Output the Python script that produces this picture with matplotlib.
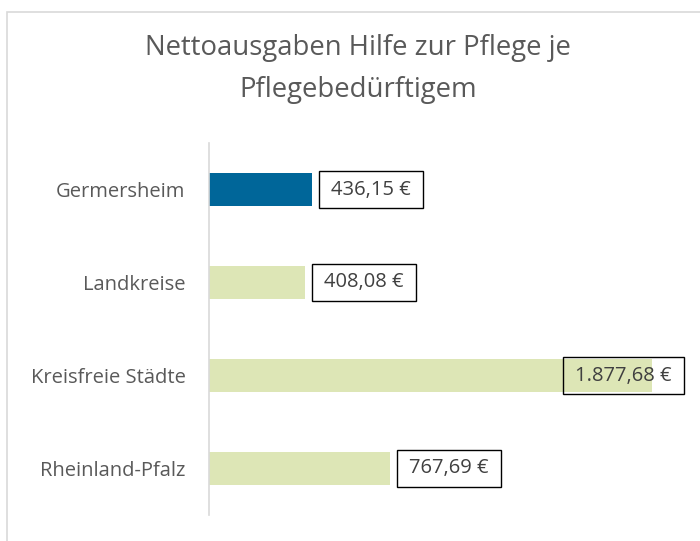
import matplotlib
matplotlib.use("Agg")
import matplotlib.pyplot as plt
from matplotlib.patches import Rectangle
from matplotlib.path import Path

categories = ["Germersheim", "Landkreise", "Kreisfreie Städte", "Rheinland-Pfalz"]
values = [436.15, 408.08, 1877.68, 767.69]
labels = ["436,15 €", "408,08 €", "1.877,68 €", "767,69 €"]
colors = ["#006699", "#dde6b6", "#dde6b6", "#dde6b6"]
title = "Nettoausgaben Hilfe zur Pflege je\nPflegebedürftigem"

plt.rcParams['font.family'] = ['Open Sans', 'DejaVu Sans']
fig = plt.figure(figsize=(7.0, 5.41), dpi=100)

# chart frame (cropped)
fig.patches.append(Rectangle((7/700, -0.1), 1.0, 1 - 12/541 + 0.1, transform=fig.transFigure,
                             fill=False, edgecolor="#d9d9d9", linewidth=1.2))
fig.text(0.0, 1.0 + 8/541, "5393", fontsize=16, color="#000000", ha="left", va="center")

ax = fig.add_axes([209/700, 1 - 515/541, (681 - 209)/700, (515 - 143)/541])
y = list(range(len(categories)))
ax.barh(y, values, height=0.355, color=colors)
ax.set_xlim(0, 2000)
ax.set_ylim(3.5, -0.5)
ax.set_yticks(y)
ax.set_yticklabels(categories, fontsize=14.5, color="#595959")
ax.tick_params(axis='y', length=0, pad=17)
ax.set_xticks([])
for s in ["top", "right", "bottom"]:
    ax.spines[s].set_visible(False)
ax.spines["left"].set_color("#d9d9d9")
ax.spines["left"].set_linewidth(1.2)


def label_box(x0, y0, width, height, mutation_size):
    px = 0.6 * mutation_size
    py = 0.4 * mutation_size
    x0, y0 = x0 - px, y0 - py
    x1, y1 = x0 + width + 2 * px, y0 + height + 2 * py
    return Path([(x0, y0), (x1, y0), (x1, y1), (x0, y1), (x0, y0)], closed=True)


for i, (v, lab) in enumerate(zip(values, labels)):
    if v > 1500:
        off = -77
    else:
        off = 19
    ax.annotate(lab, xy=(v, i), xytext=(off * 72 / 100, 0), textcoords="offset points",
                ha="left", va="center", fontsize=14.5, color="#404040",
                bbox=dict(boxstyle=label_box, facecolor="none", edgecolor="#000000", linewidth=1.0))

fig.text(358/700, 1 - 69/541, title, ha="center", va="center", fontsize=19.8,
         color="#595959", linespacing=1.7)

fig.savefig("out.png", dpi=100)
